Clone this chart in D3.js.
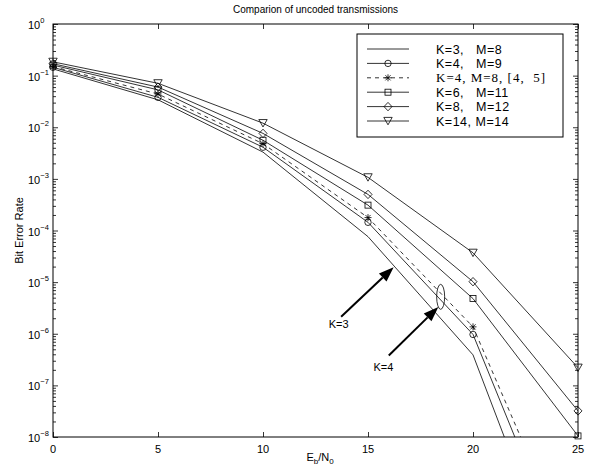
<!DOCTYPE html>
<html>
<head>
<meta charset="utf-8">
<script src="https://cdn.jsdelivr.net/npm/d3@7"></script>
<style>
  body { margin: 0; background: #fff; }
  svg { font-family: "Liberation Sans", Arial, sans-serif; }
</style>
</head>
<body>
<div id="chart"></div>
<script>
/*
BER curves, log y axis, matlab look
*/

var svgWidth = 594,
    svgHeight = 472;

var margin = {left: 53, right: 16, top: 24, bottom: 35};

var width = svgWidth - margin.left - margin.right,
    height = svgHeight - margin.top - margin.bottom;

// data
var ebno = [0, 5, 10, 15, 20, 25];
var berK3M8   = [0.135, 0.034, 3.3e-3, 7.6e-5, 3.9e-7, 1.8e-12];
var berK4M9   = [0.145, 0.038, 4.1e-3, 1.44e-4, 9.7e-7, 1.0e-11];
var berK4M8b  = [0.150, 0.044, 4.8e-3, 1.78e-4, 1.36e-6, 2.7e-11];
var berK6M11  = [0.160, 0.053, 5.6e-3, 3.1e-4, 4.8e-6, 1.05e-8];
var berK8M12  = [0.170, 0.060, 7.6e-3, 5.0e-4, 1.02e-5, 3.2e-8];
var berK14M14 = [0.185, 0.071, 1.2e-2, 1.07e-3, 3.7e-5, 2.2e-7];

var legendLabels = ["K=3,   M=8", "K=4,   M=9", "K=4, M=8, [4,  5]", "K=6,   M=11", "K=8,   M=12", "K=14, M=14"];
var xTicks = [0, 5, 10, 15, 20, 25];
var yExponents = [0, -1, -2, -3, -4, -5, -6, -7, -8];

var series = [
    {values: berK3M8,   marker: "none",     dash: null,  label: legendLabels[0]},
    {values: berK4M9,   marker: "circle",   dash: null,  label: legendLabels[1]},
    {values: berK4M8b,  marker: "star",     dash: "4,4", label: legendLabels[2], serif: true},
    {values: berK6M11,  marker: "square",   dash: null,  label: legendLabels[3]},
    {values: berK8M12,  marker: "diamond",  dash: null,  label: legendLabels[4]},
    {values: berK14M14, marker: "triangle", dash: null,  label: legendLabels[5]}
];

var svg = d3.select("#chart")
    .append("svg")
        .attr("width", svgWidth)
        .attr("height", svgHeight);

var g = svg.append("g")
    .attr("transform", `translate(${margin.left}, ${margin.top})`);

var x = d3.scaleLinear()
    .domain([0, 25])
    .range([0, width]);

var y = d3.scaleLog()
    .domain([1e-8, 1])
    .range([height, 0]);

svg.append("defs").append("clipPath")
    .attr("id", "plot-clip")
  .append("rect")
    .attr("width", width)
    .attr("height", height);

// ticks, inward on all four sides
var minorVals = [];
yExponents.slice(0, -1).forEach(e => {
    for (var k = 2; k <= 9; k++) minorVals.push(k * Math.pow(10, e - 1));
});
var majorVals = yExponents.map(e => Math.pow(10, e));

function tickAxis(axis, vals, size) {
    return axis.tickValues(vals).tickSize(size).tickFormat("");
}

var axisGroups = [
    {call: tickAxis(d3.axisBottom(x), xTicks, -5), t: `translate(0, ${height})`},
    {call: tickAxis(d3.axisTop(x), xTicks, -5), t: "translate(0, 0)"},
    {call: tickAxis(d3.axisLeft(y), majorVals, -5), t: "translate(0, 0)"},
    {call: tickAxis(d3.axisLeft(y), minorVals, -3), t: "translate(0, 0)"},
    {call: tickAxis(d3.axisRight(y), majorVals, -5), t: `translate(${width}, 0)`},
    {call: tickAxis(d3.axisRight(y), minorVals, -3), t: `translate(${width}, 0)`}
];
axisGroups.forEach(a => {
    var ag = g.append("g").attr("transform", a.t).call(a.call);
    ag.select(".domain").remove();
    ag.selectAll("line").attr("stroke", "#000").attr("stroke-width", 0.8);
});

// x tick labels
g.selectAll(".xlab")
    .data(xTicks)
    .enter().append("text")
        .attr("x", d => x(d))
        .attr("y", height + 16)
        .attr("text-anchor", "middle")
        .attr("font-size", "11px")
        .text(d => d);

// y tick labels 10^e
var ylab = g.selectAll(".ylab")
    .data(yExponents)
    .enter().append("text")
        .attr("x", -25)
        .attr("y", d => y(Math.pow(10, d)) + 5)
        .attr("font-size", "11px");
ylab.append("tspan").text("10");
ylab.append("tspan")
    .attr("dy", -6)
    .attr("font-size", "7.5px")
    .text(d => d === 0 ? "0" : "\u2212" + (-d));

// curves
var line = d3.line()
    .x(d => x(d[0]))
    .y(d => y(d[1]));

var plot = g.append("g").attr("clip-path", "url(#plot-clip)");

series.forEach(s => {
    plot.append("path")
        .datum(ebno.map((e, i) => [e, s.values[i]]))
        .attr("fill", "none")
        .attr("stroke", "#000")
        .attr("stroke-width", 0.8)
        .attr("stroke-dasharray", s.dash)
        .attr("d", line);
});

function drawMarker(sel, type) {
    if (type === "circle") {
        sel.append("circle").attr("r", 3.2);
    } else if (type === "square") {
        sel.append("rect").attr("x", -3).attr("y", -3).attr("width", 6).attr("height", 6);
    } else if (type === "diamond") {
        sel.append("path").attr("d", "M0,-4.2L4,0L0,4.2L-4,0Z");
    } else if (type === "triangle") {
        sel.append("path").attr("d", "M-4.2,-3.6L4.2,-3.6L0,3.8Z");
    } else if (type === "star") {
        sel.append("path").attr("d", "M-3.5,0H3.5M0,-3.5V3.5M-2.6,-2.6L2.6,2.6M-2.6,2.6L2.6,-2.6");
    }
    sel.selectAll("*")
        .attr("fill", "none")
        .attr("stroke", "#000")
        .attr("stroke-width", 0.8);
}

series.forEach(s => {
    if (s.marker === "none") return;
    ebno.forEach((e, i) => {
        var v = s.values[i];
        if (v < 1e-8 * 0.999) return;
        var m = g.append("g").attr("transform", `translate(${x(e)}, ${y(v)})`);
        drawMarker(m, s.marker);
    });
});

// axes box
g.append("rect")
    .attr("width", width)
    .attr("height", height)
    .attr("fill", "none")
    .attr("stroke", "#000")
    .attr("stroke-width", 1);

// annotations: arrows and the ellipse
function arrow(from, to) {
    var x0 = x(from[0]), y0 = y(from[1]), x1 = x(to[0]), y1 = y(to[1]);
    var ang = Math.atan2(y1 - y0, x1 - x0), len = 15, hw = 5.5;
    var bx = x1 - len * Math.cos(ang), by = y1 - len * Math.sin(ang);
    g.append("line")
        .attr("x1", x0).attr("y1", y0).attr("x2", bx).attr("y2", by)
        .attr("stroke", "#000").attr("stroke-width", 2);
    g.append("path")
        .attr("d", `M${x1},${y1}L${bx + hw * Math.sin(ang)},${by - hw * Math.cos(ang)}L${bx - hw * Math.sin(ang)},${by + hw * Math.cos(ang)}Z`)
        .attr("fill", "#000");
}
arrow([13.72, Math.pow(10, -5.67)], [16.22, Math.pow(10, -4.71)]);
arrow([15.99, Math.pow(10, -6.42)], [18.35, Math.pow(10, -5.48)]);

g.append("ellipse")
    .attr("cx", x(18.46))
    .attr("cy", y(Math.pow(10, -5.285)))
    .attr("rx", 4)
    .attr("ry", 12.5)
    .attr("fill", "none")
    .attr("stroke", "#000")
    .attr("stroke-width", 0.8);

g.append("text")
    .attr("x", x(13.6)).attr("y", y(Math.pow(10, -5.81)) + 4)
    .attr("text-anchor", "middle")
    .attr("font-size", "11px")
    .text("K=3");
g.append("text")
    .attr("x", x(15.73)).attr("y", y(Math.pow(10, -6.65)) + 4)
    .attr("text-anchor", "middle")
    .attr("font-size", "11px")
    .text("K=4");

// legend
var legend = svg.append("g")
    .attr("transform", "translate(357, 34)");
legend.append("rect")
    .attr("width", 206)
    .attr("height", 103)
    .attr("fill", "#fff")
    .attr("stroke", "#000")
    .attr("stroke-width", 1);

series.forEach((s, i) => {
    var row = legend.append("g").attr("transform", `translate(0, ${15 + i * 14.4})`);
    row.append("line")
        .attr("x1", 10).attr("x2", 52)
        .attr("stroke", "#000")
        .attr("stroke-width", 0.8)
        .attr("stroke-dasharray", s.dash);
    if (s.marker !== "none") {
        var m = row.append("g").attr("transform", "translate(31, 0)");
        drawMarker(m, s.marker);
    }
    var txt = row.append("text")
        .attr("x", 79)
        .attr("y", 4.5)
        .attr("xml:space", "preserve")
        .style("white-space", "pre")
        .text(s.label);
    if (s.serif) {
        txt.attr("font-family", "'Liberation Serif', 'DejaVu Serif', serif")
            .attr("font-size", "13px")
            .attr("textLength", 109)
            .attr("lengthAdjust", "spacing");
    } else {
        txt.attr("font-size", "12.5px")
            .attr("letter-spacing", "0.5px");
    }
});

// titles
svg.append("text")
    .attr("x", margin.left + width / 2)
    .attr("y", 13)
    .attr("text-anchor", "middle")
    .attr("font-size", "10px")
    .text("Comparion of uncoded transmissions");

svg.append("text")
    .attr("transform", `translate(23, ${margin.top + height / 2}) rotate(-90)`)
    .attr("text-anchor", "middle")
    .attr("font-size", "11px")
    .text("Bit Error Rate");

var xl = svg.append("text")
    .attr("x", 320)
    .attr("y", 461)
    .attr("text-anchor", "middle")
    .attr("font-size", "11px");
xl.append("tspan").text("E");
xl.append("tspan").attr("dy", 3).attr("font-size", "8px").text("b");
xl.append("tspan").attr("dy", -3).text("/N");
xl.append("tspan").attr("dy", 3).attr("font-size", "8px").text("0");
</script>
</body>
</html>
